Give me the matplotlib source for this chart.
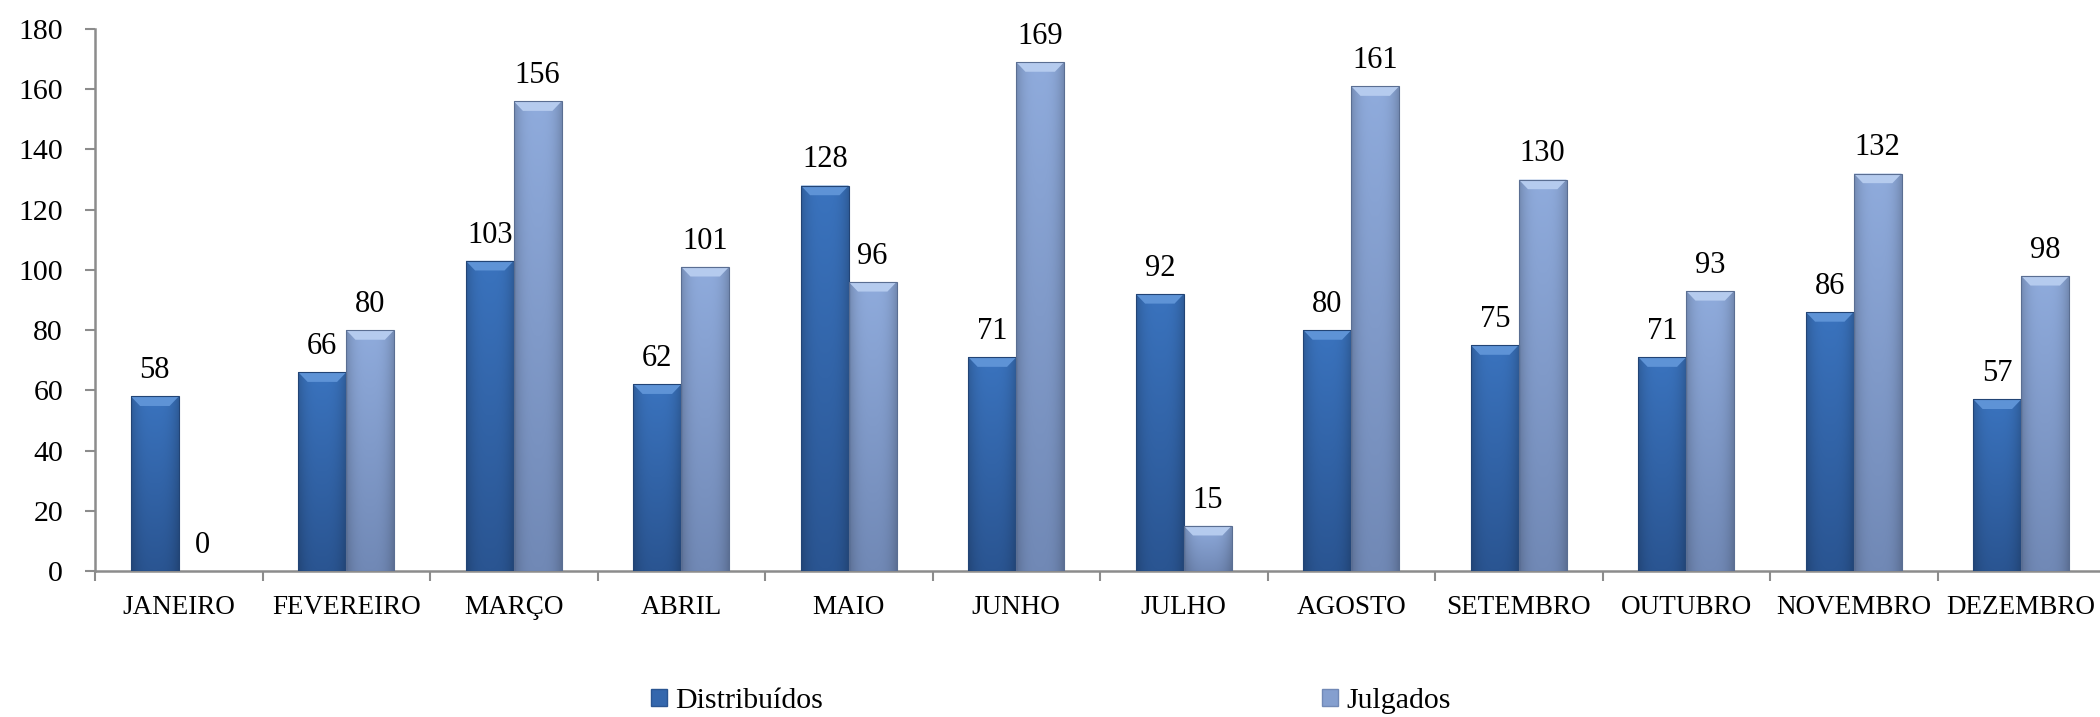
import numpy as np
import matplotlib
matplotlib.use("Agg")
import matplotlib.pyplot as plt
from matplotlib.patches import Polygon, Patch
from matplotlib.colors import to_rgb

months = ["JANEIRO", "FEVEREIRO", "MARÇO", "ABRIL", "MAIO", "JUNHO", "JULHO",
          "AGOSTO", "SETEMBRO", "OUTUBRO", "NOVEMBRO", "DEZEMBRO"]
distribuidos = [58, 66, 103, 62, 128, 71, 92, 80, 75, 71, 86, 57]
julgados = [0, 80, 156, 101, 96, 169, 15, 161, 130, 93, 132, 98]
series_names = ["Distribuídos", "Julgados"]
yticks = [0, 20, 40, 60, 80, 100, 120, 140, 160, 180]

SERIF = ["Liberation Serif", "DejaVu Serif"]
C_DIST = "#3467AD"
C_JUL = "#859FCF"
AXC = "#8C8C8C"

fig = plt.figure(figsize=(21, 7.17), dpi=100)
ax = fig.add_axes([95 / 2100, 1 - 571 / 717, 2010 / 2100, (571 - 29) / 717])

x = np.arange(len(months))
w = 1 / 3.5
b1 = ax.bar(x - w / 2, distribuidos, w, color=C_DIST, edgecolor="none", zorder=2)
b2 = ax.bar(x + w / 2, julgados, w, color=C_JUL, edgecolor="none", zorder=2)


def shade(bars, top, bottom, light):
    top = np.array(to_rgb(top)); bottom = np.array(to_rgb(bottom))
    light = np.array(to_rgb(light))
    ny, nx = 64, 32
    t = np.linspace(0, 1, ny)[:, None, None]          # 0 top -> 1 bottom
    u = np.linspace(-1, 1, nx)[None, :, None]
    base = top * (1 - t) + bottom * t
    edge = 1 - 0.18 * np.abs(u) ** 3
    img = np.clip(base * edge, 0, 1)
    for b in bars:
        h = b.get_height()
        if h <= 0:
            continue
        x0 = b.get_x(); x1 = x0 + b.get_width()
        im = ax.imshow(img, extent=[x0, x1, 0, h], aspect="auto",
                       interpolation="bilinear", zorder=3)
        im.set_clip_path(b)
        dh = min(3.2, h * 0.3)
        dx = 0.055
        poly = Polygon([(x0, h), (x1, h), (x1 - dx, h - dh), (x0 + dx, h - dh)],
                       closed=True, facecolor=light, edgecolor="none", zorder=4)
        ax.add_patch(poly)
        ax.add_patch(Polygon([(x0, 0), (x0, h), (x1, h), (x1, 0)], closed=True,
                             fill=False, edgecolor=tuple(bottom * 0.8), lw=0.8, zorder=5))


shade(b1, "#3A73BE", "#2A5592", "#5E93D6")
shade(b2, "#8FABDC", "#7189B6", "#B5CBEE")

for bars, vals in ((b1, distribuidos), (b2, julgados)):
    for b, v in zip(bars, vals):
        ax.annotate(f"{v}", (b.get_x() + b.get_width() / 2, v), xytext=(0, 8),
                    textcoords="offset points", ha="center", va="bottom",
                    fontsize=22, family=SERIF, color="black", zorder=6)

ax.set_xlim(-0.5, len(months) - 0.5)
ax.set_ylim(0, 180)
ax.set_yticks(yticks)
ax.set_yticklabels([str(v) for v in yticks], fontsize=21.5, family=SERIF)
ax.set_xticks(x)
ax.set_xticklabels(months, fontsize=19.5, family=SERIF)
ax.set_xticks(np.arange(-0.5, len(months), 1), minor=True)
ax.tick_params(axis="x", which="major", length=0, pad=17)
ax.tick_params(axis="x", which="minor", length=7, width=1.5, color=AXC, direction="out")
ax.tick_params(axis="y", length=7, width=1.5, color=AXC, direction="out", pad=16)
for s in ("top", "right"):
    ax.spines[s].set_visible(False)
for s in ("left", "bottom"):
    ax.spines[s].set_color(AXC)
    ax.spines[s].set_linewidth(1.8)

handles = [Patch(facecolor=C_DIST, edgecolor="#2A5592"),
           Patch(facecolor=C_JUL, edgecolor="#7189B6")]
for h, name, xpix in zip(handles, series_names, (651, 1322)):
    fig.legend([h], [name], loc="center left", bbox_to_anchor=(xpix / 2100, 1 - 701 / 717),
               frameon=False, prop={"family": SERIF, "size": 21.5},
               handlelength=0.55, handleheight=0.5, handletextpad=0.27,
               borderaxespad=0, borderpad=0)

fig.savefig("out.png", dpi=100)
